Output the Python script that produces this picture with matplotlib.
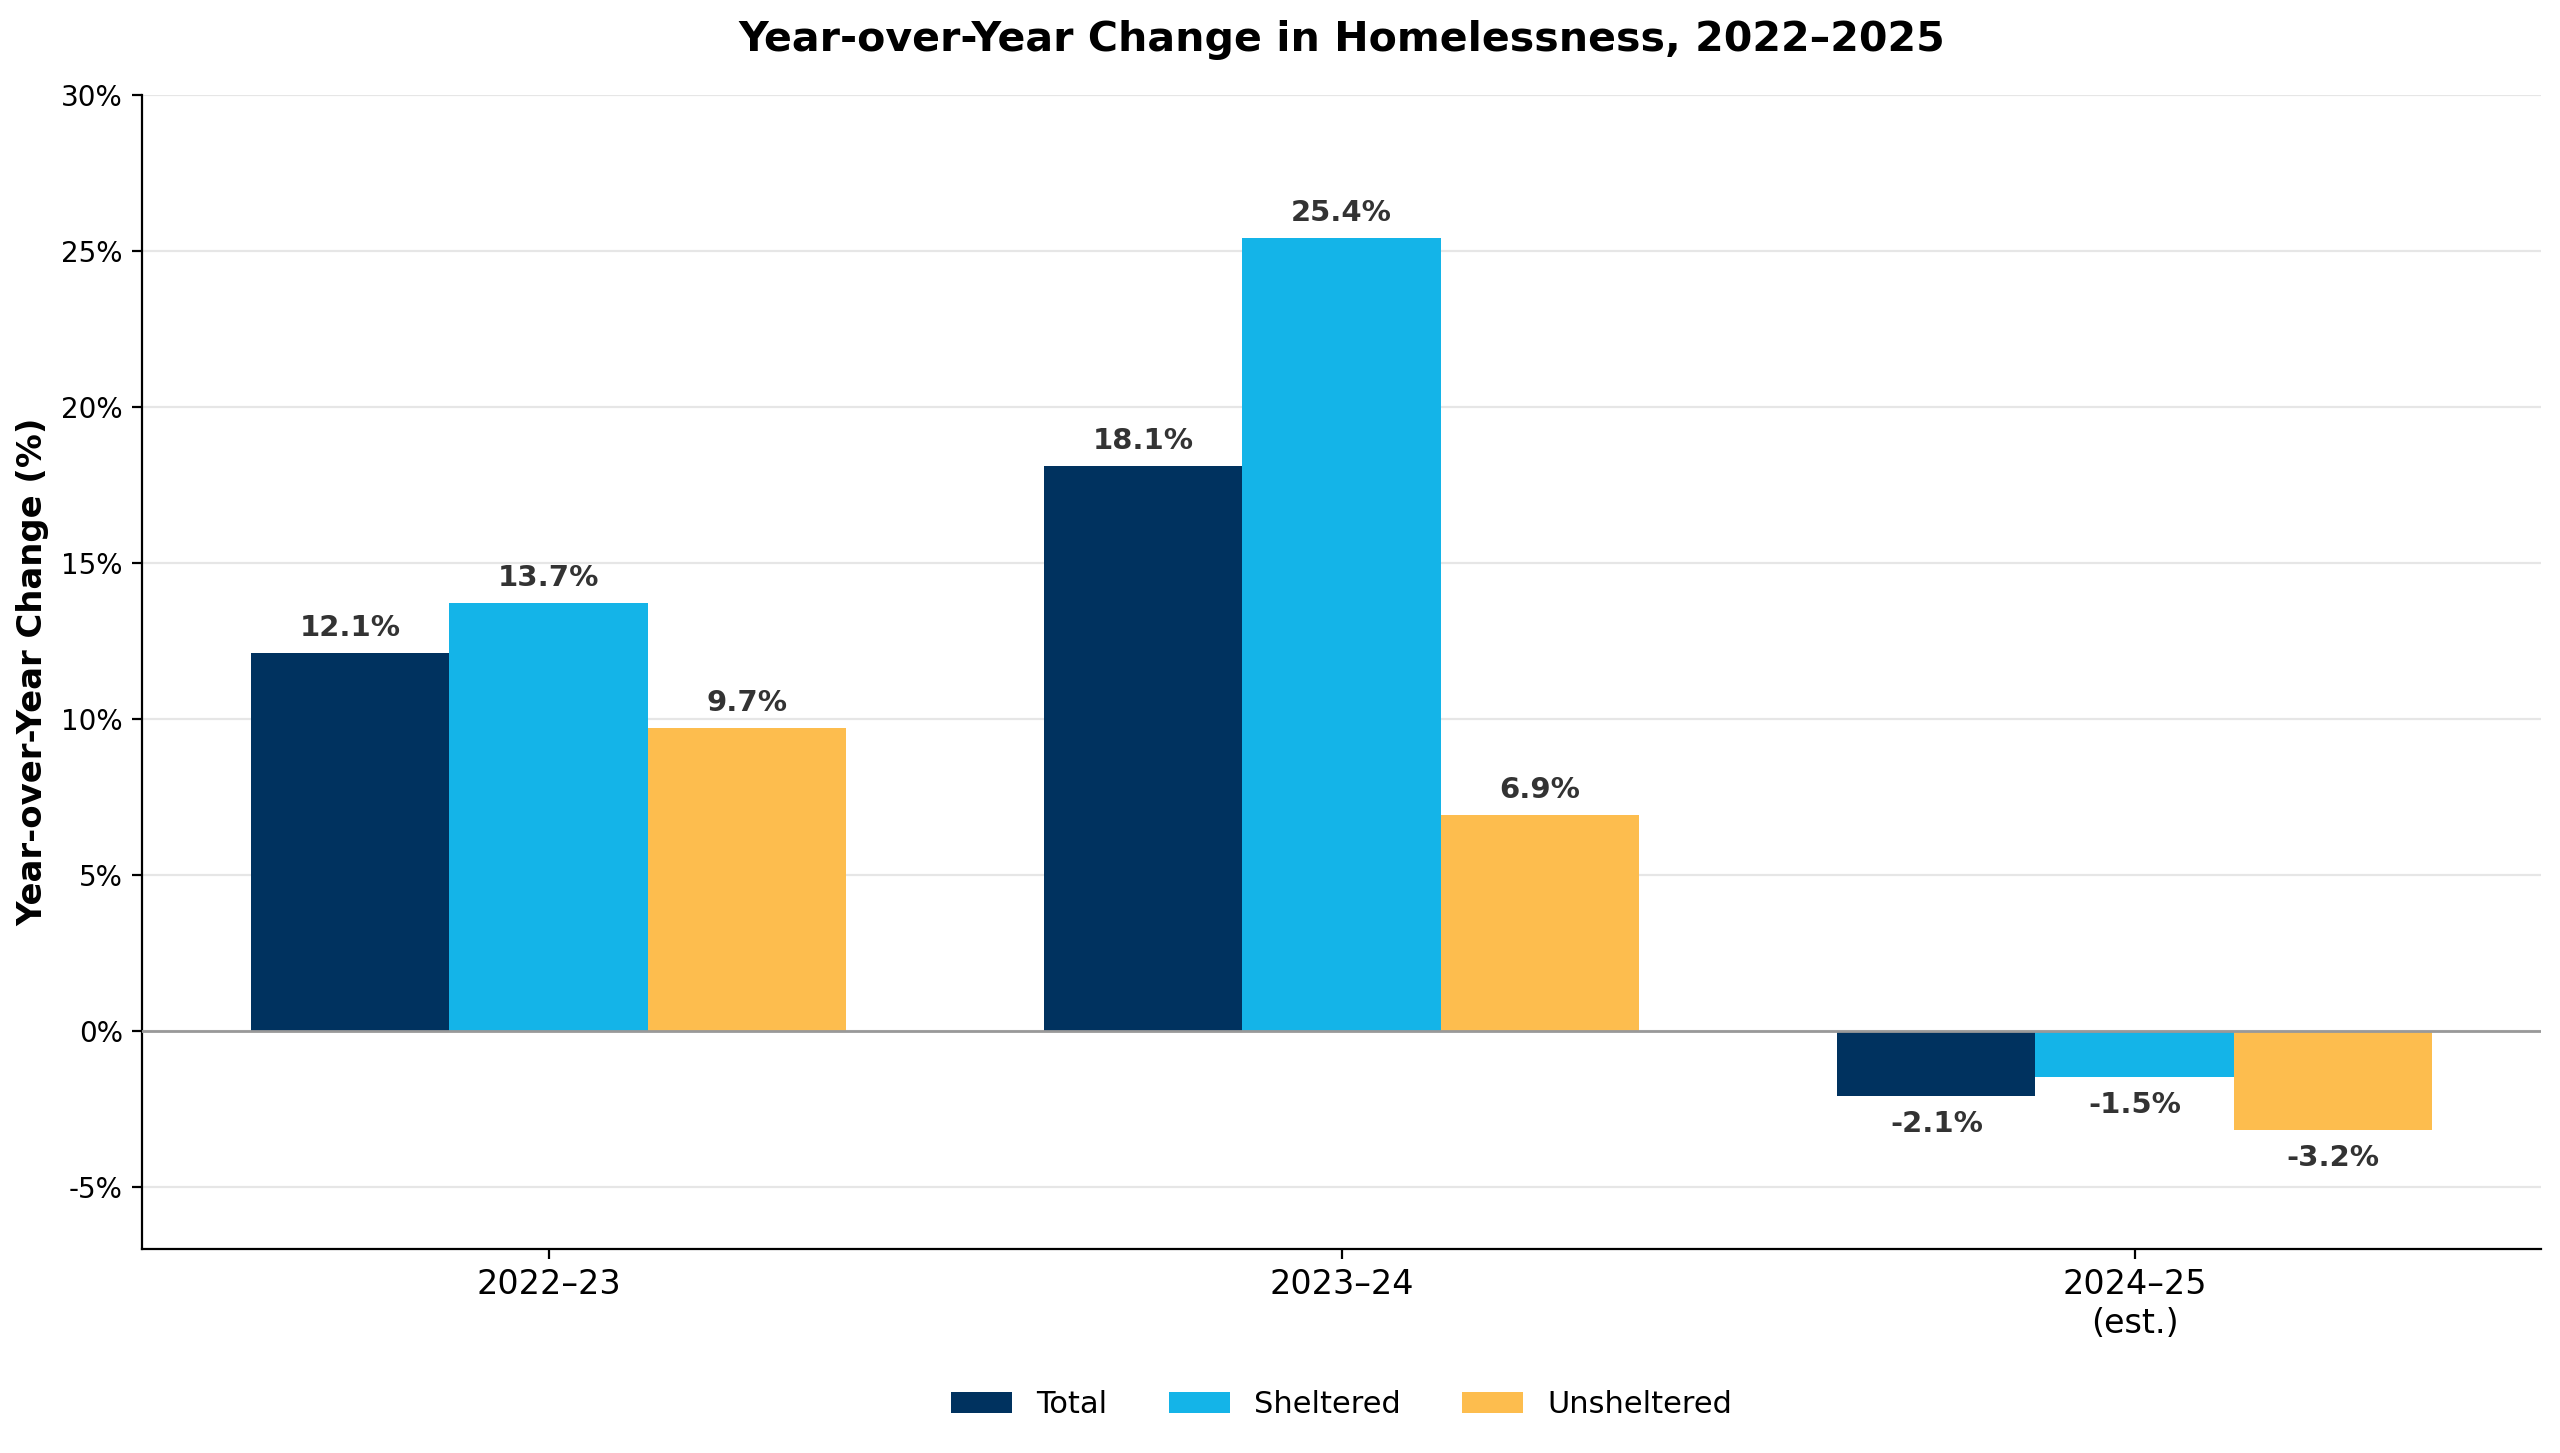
import numpy as np
import matplotlib.pyplot as plt
from matplotlib.ticker import FuncFormatter

# data
periods = ['2022–23', '2023–24', '2024–25\n(est.)']
total = [12.1, 18.1, -2.1]
sheltered = [13.7, 25.4, -1.5]
unsheltered = [9.7, 6.9, -3.2]
series_names = ['Total', 'Sheltered', 'Unsheltered']
colors = ['#00325F', '#14B4E8', '#FDBD4E']

fig = plt.figure(figsize=(12.8, 7.265), dpi=200)
ax = fig.add_axes([0.0555, 0.1404, 0.9371, 0.7942])

x = np.arange(len(periods))
w = 0.25
for i, (vals, name, c) in enumerate(zip([total, sheltered, unsheltered], series_names, colors)):
    pos = x + (i - 1) * w
    bars = ax.bar(pos, vals, w, color=c, label=name, zorder=3)
    for b, v in zip(bars, vals):
        if v >= 0:
            ax.annotate(f'{v:.1f}%', (b.get_x() + b.get_width() / 2, v),
                        xytext=(0, 4), textcoords='offset points',
                        ha='center', va='bottom', fontsize=10.5,
                        fontweight='bold', color='#333333')
        else:
            ax.annotate(f'{v:.1f}%', (b.get_x() + b.get_width() / 2, v),
                        xytext=(0, -5), textcoords='offset points',
                        ha='center', va='top', fontsize=10.5,
                        fontweight='bold', color='#333333')

ax.axhline(0, color='#999999', linewidth=1, zorder=4)
ax.set_ylim(-7, 30)
ax.set_yticks(np.arange(-5, 31, 5))
ax.yaxis.set_major_formatter(FuncFormatter(lambda v, p: f'{v:.0f}%'))
ax.grid(axis='y', color='#e6e6e6', linewidth=0.8, zorder=0)
ax.set_axisbelow(True)
ax.set_xticks(x)
ax.set_xticklabels(periods, fontsize=12)
ax.tick_params(axis='y', labelsize=10)
ax.spines['top'].set_visible(False)
ax.spines['right'].set_visible(False)

ax.set_ylabel('Year-over-Year Change (%)', fontsize=12.2, fontweight='bold')
ax.set_title('Year-over-Year Change in Homelessness, 2022–2025',
             fontsize=14.8, fontweight='bold', pad=16)

ax.legend(loc='center', bbox_to_anchor=(0.5, -0.135), ncol=3,
          frameon=False, fontsize=11, handlelength=2.0, columnspacing=2.0)

fig.savefig('out.png', dpi=200)
